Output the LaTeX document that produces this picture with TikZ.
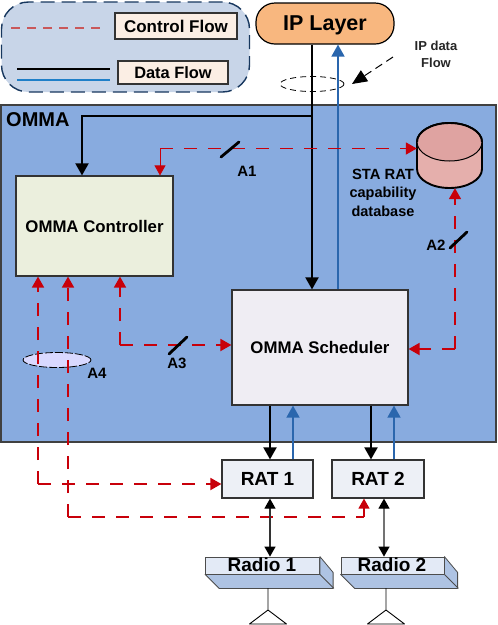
\documentclass[tikz,border=0pt]{standalone}
\usepackage{fontspec}
\setmainfont{Liberation Sans}
\usetikzlibrary{arrows.meta,shapes.geometric}
\definecolor{ommablue}{HTML}{88ABDF}
\definecolor{legendfill}{HTML}{C8D5E8}
\definecolor{legendnavy}{HTML}{17375E}
\definecolor{labelfill}{HTML}{FBEEE4}
\definecolor{iporange}{HTML}{F8B77F}
\definecolor{ctrlfill}{HTML}{EBEFDD}
\definecolor{schedfill}{HTML}{EFEDF3}
\definecolor{ratfill}{HTML}{EDF0F6}
\definecolor{radiotop}{HTML}{E3EAF6}
\definecolor{radioside}{HTML}{AEC3E3}
\definecolor{ctrlred}{HTML}{C8000A}
\definecolor{datablue}{HTML}{2A66AD}
\definecolor{legendred}{HTML}{C9585A}
\definecolor{legendblue}{HTML}{1F7FC8}
\definecolor{dbasebody}{HTML}{E5AFAC}
\definecolor{dbasetop}{HTML}{DFA3A1}
\tikzset{
    txt/.style={font=\fontsize{#1}{#1}\selectfont\bfseries, inner sep=0pt, text depth=0pt},
    bluebox/.style={draw=black!80, line width=1.2pt, inner sep=0pt},
    ctrlflow/.style={draw=ctrlred, line width=1.8pt, dash pattern=on 13pt off 11pt, -{Triangle[length=11pt,width=12pt,fill=ctrlred]}},
    ctrlplain/.style={draw=ctrlred, line width=1.8pt, dash pattern=on 13pt off 11pt},
    dataflow/.style={draw=black, line width=1.9pt, -{Triangle[length=12pt,width=13pt]}},
    upflow/.style={draw=datablue, line width=1.6pt, -{Triangle[length=12pt,width=13pt]}},
    radioflow/.style={line width=1.2pt, {Triangle[length=10pt,width=11pt,color=black]}-{Triangle[length=10pt,width=11pt,color=black]}},
    slash/.style={line width=2.8pt, line cap=round},
    radiobody/.style={draw=black!70, fill=radioside, line width=0.8pt, line join=round},
    radiofront/.style={draw=black!70, fill=radiotop, line width=0.8pt, inner sep=0pt, minimum height=17pt}
}
\begin{document}
\begin{tikzpicture}[x=1pt,y=-1pt]
    \useasboundingbox (0,0) rectangle (498,625);

    % Legend
    \node[draw=legendnavy, fill=legendfill, line width=1.4pt, dash pattern=on 14pt off 7pt, rounded corners=27pt, minimum width=248pt, minimum height=90pt, inner sep=0pt] (legend) at (125.5,47) {};
    \node[bluebox, fill=labelfill, minimum width=122pt, minimum height=26pt, txt=17] (ctrllabel) at (176,26) {Control Flow};
    \node[bluebox, fill=labelfill, minimum width=110pt, minimum height=23pt, txt=16.4] (datalabel) at (173,72.5) {Data Flow};
    \coordinate (redstart) at (11,28);
    \coordinate (redend) at (105,28);
    \coordinate (blackstart) at (17,69);
    \coordinate (blackend) at (110,69);
    \coordinate (bluestart) at (17,80);
    \coordinate (blueend) at (110,80);
    \draw[draw=legendred, line width=1.4pt, dash pattern=on 9pt off 7pt] (redstart) -- (redend);
    \draw[line width=1.2pt] (blackstart) -- (blackend);
    \draw[draw=legendblue, line width=1.6pt] (bluestart) -- (blueend);

    % OMMA block
    \node[draw=black!75, fill=ommablue, line width=1.2pt, minimum width=495pt, minimum height=337pt, inner sep=0pt] (omma) at (248.5,273.5) {};
    \node[txt=20, anchor=west] (ommalabel) at (6,120) {OMMA};
    \node[draw=black, fill=iporange, line width=1.2pt, rounded corners=19pt, minimum width=138pt, minimum height=41pt, txt=21.5] (ip) at (325,23.5) {IP Layer};
    \node[bluebox, fill=ctrlfill, minimum width=157pt, minimum height=100pt, txt=16.8] (ctrl) at (94.5,226) {OMMA Controller};
    \node[bluebox, fill=schedfill, minimum width=176pt, minimum height=115pt, txt=16.8] (sched) at (320,347.5) {OMMA Scheduler};
    \node[bluebox, fill=ratfill, minimum width=91pt, minimum height=38pt, txt=19] (ratone) at (267.5,479) {RAT 1};
    \node[bluebox, fill=ratfill, minimum width=92pt, minimum height=38pt, txt=19] (rattwo) at (378,479) {RAT 2};

    % Database
    \node[minimum width=65pt, minimum height=65pt, inner sep=0pt] (dbase) at (449.5,155.5) {};
    \coordinate (dbasetl) at (417,142);
    \coordinate (dbasebl) at (417,169);
    \draw[fill=dbasebody, line width=1.9pt] (dbasebl) arc[start angle=180, end angle=360, x radius=32.5pt, y radius=19pt] -- ++(0,-27) arc[start angle=0, end angle=180, x radius=32.5pt, y radius=19pt] -- cycle;
    \draw[fill=dbasetop, line width=1pt] (dbasetl) arc[start angle=180, end angle=360, x radius=32.5pt, y radius=19pt] arc[start angle=0, end angle=180, x radius=32.5pt, y radius=19pt] -- cycle;
    \draw[line width=1.9pt] (dbasetl) arc[start angle=180, end angle=0, x radius=32.5pt, y radius=19pt];
    \node[txt=14.8] (dblabela) at (383,174.5) {STA RAT};
    \node[txt=14.5] (dblabelb) at (383,192.5) {capability};
    \node[txt=14.5] (dblabelc) at (383,211) {database};

    % IP data flow
    \node[draw=black, line width=0.8pt, dash pattern=on 6pt off 4pt, ellipse, minimum width=64pt, minimum height=15pt, inner sep=0pt] (ipring) at (312,84) {};
    \node[txt=13, text=black!85] (iptexta) at (436,46) {IP data};
    \node[txt=13, text=black!85] (iptextb) at (436,63) {Flow};
    \coordinate (ringfrom) at (393,57);
    \coordinate (ringto) at (352,84);
    \draw[line width=1pt, dash pattern=on 8pt off 5pt, -{Triangle[length=15pt,width=13pt]}] (ringfrom) -- (ringto);

    % Data paths
    \coordinate (iptap) at (312,116);
    \coordinate (ctrlcorner) at (82,116);
    \coordinate (downx) at (312,0);
    \coordinate (upx) at (338,0);
    \draw[dataflow] (ip.south -| downx) -- (sched.north -| downx);
    \draw[upflow] (sched.north -| upx) -- (ip.south -| upx);
    \draw[dataflow] (iptap) -- (ctrlcorner) -- (ctrl.north -| ctrlcorner);
    \foreach \nm/\ratnm/\dnx/\upx in {a/ratone/270/293, b/rattwo/371/394} {
        \coordinate (dn\nm) at (\dnx,0);
        \coordinate (up\nm) at (\upx,0);
        \draw[dataflow] (sched.south -| dn\nm) -- (\ratnm.north -| dn\nm);
        \draw[upflow] (\ratnm.north -| up\nm) -- (sched.south -| up\nm);
    }

    % A1
    \coordinate (aonecorner) at (160,148.5);
    \draw[ctrlred, line width=0.8pt, -{Triangle[length=10pt,width=11pt,fill=ctrlred]}] (aonecorner) -- (ctrl.north -| aonecorner);
    \draw[ctrlflow] (aonecorner) -- (dbase.west |- aonecorner);
    \coordinate (aonea) at (221,157);
    \coordinate (aoneb) at (239,142);
    \draw[slash] (aonea) -- (aoneb);
    \node[txt=15] (aonelabel) at (247,171) {A1};

    % A2
    \coordinate (atwocorner) at (455,349);
    \draw[ctrlflow] (atwocorner) -- (dbase.south -| atwocorner);
    \draw[ctrlflow] (atwocorner) -- (sched.east |- atwocorner);
    \coordinate (atwoa) at (450,248);
    \coordinate (atwob) at (467,232);
    \draw[slash] (atwoa) -- (atwob);
    \node[txt=15] (atwolabel) at (436,245) {A2};

    % A3
    \coordinate (athreecorner) at (120,345);
    \draw[ctrlflow] (athreecorner) -- (ctrl.south -| athreecorner);
    \draw[ctrlflow] (athreecorner) -- (sched.west |- athreecorner);
    \coordinate (athreea) at (169,354);
    \coordinate (athreeb) at (187,337);
    \draw[slash] (athreea) -- (athreeb);
    \node[txt=15] (athreelabel) at (177,363) {A3};

    % A4
    \node[draw=black, fill=blue!15!white, line width=0.8pt, dash pattern=on 8pt off 2pt, ellipse, minimum width=68pt, minimum height=15pt, inner sep=0pt] (afourring) at (57,360) {};
    \node[txt=15] (afourlabel) at (97,373) {A4};
    \coordinate (afourcornera) at (38,484);
    \coordinate (afourcornerb) at (68,517);
    \coordinate (ratinb) at (364,517);
    \draw[ctrlflow] (afourcornera) -- (ctrl.south -| afourcornera);
    \draw[ctrlflow] (afourcornera) -- (ratone.west |- afourcornera);
    \draw[ctrlflow] (afourcornerb) -- (ctrl.south -| afourcornerb);
    \draw[ctrlplain] (afourcornerb) -- (ratinb);
    \draw[ctrlred, line width=1.4pt, -{Triangle[length=10pt,width=11pt,fill=ctrlred]}] (ratinb) -- (rattwo.south -| ratinb);

    % Radios
    \node[radiofront, minimum width=114pt] (radioa) at (262.5,565.5) {};
    \node[radiofront, minimum width=103pt] (radiob) at (392.5,565.5) {};
    \draw[radiobody] (radioa.south west) -- ++(14,14) -- ++(114,0) -- ++(0,-16) -- (radioa.north east) -- (radioa.south east) -- cycle;
    \draw[radiobody] (radiob.south west) -- ++(14,14) -- ++(103,0) -- ++(0,-16) -- (radiob.north east) -- (radiob.south east) -- cycle;
    \draw[black!70, line width=0.8pt] (radioa.south east) -- ++(14,14);
    \draw[black!70, line width=0.8pt] (radiob.south east) -- ++(14,14);
    \node[txt=19] (radioatext) at (262,565) {Radio 1};
    \node[txt=19] (radiobtext) at (392,565) {Radio 2};
    \coordinate (radiolinka) at (270,0);
    \coordinate (radiolinkb) at (384,0);
    \draw[radioflow, draw=black!80] (ratone.south -| radiolinka) -- (radioa.north -| radiolinka);
    \draw[radioflow, draw=black!55] (rattwo.south -| radiolinkb) -- (radiob.north -| radiolinkb);

    % Antennas
    \foreach \nm/\mx in {a/268, b/386} {
        \coordinate (mast\nm) at (\mx,588);
        \coordinate (apex\nm) at (\mx,610);
        \coordinate (feetl\nm) at (\mx-18.5,624);
        \coordinate (feetr\nm) at (\mx+18.5,624);
        \draw[line width=0.9pt, line join=round] (mast\nm) -- (apex\nm) -- (feetl\nm) -- (feetr\nm) -- (apex\nm);
    }
\end{tikzpicture}
\end{document}
